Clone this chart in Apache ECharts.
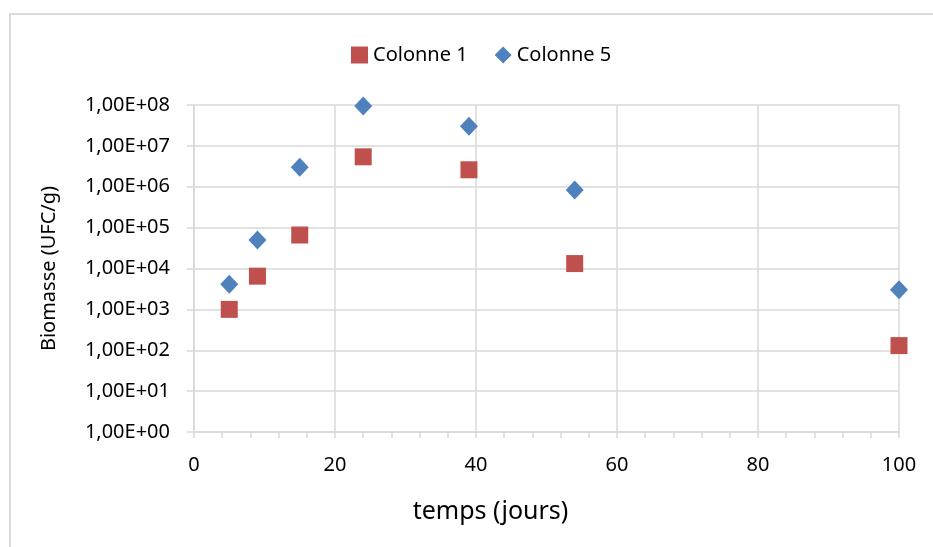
<!DOCTYPE html>
<html>
<head>
<meta charset="utf-8">
<script src="https://cdn.jsdelivr.net/npm/echarts@6/dist/echarts.min.js"></script>
<style>
  html, body { margin: 0; padding: 0; background: #fff; }
  #main { width: 933px; height: 547px; }
</style>
</head>
<body>
<div id="main"></div>
<script>
// jours de prélèvement
var jours = [5, 9, 15, 24, 39, 54, 100];
// biomasse (UFC/g)
var colonne1 = [1000, 6500, 66000, 5400000, 2600000, 13200, 130];
var colonne5 = [4100, 49500, 3000000, 95000000, 30000000, 830000, 3000];
var noms = ['Colonne 1', 'Colonne 5'];

function paires(xs, ys) { // associe x et y
    var res = [];
    for (var i = 0; i < xs.length; i++) {
        res.push([xs[i], ys[i]]);
    }
    return res;
}

function format_sci(v) { // format Excel 1,00E+0n
    var e = Math.round(Math.log(v) / Math.LN10);
    var s = e < 10 ? '0' + e : '' + e;
    return '1,00E+' + s;
}

var police = 'Noto Sans';
var gris = '#d9d9d9';

var chart = echarts.init(document.getElementById('main'));
var option = {
    animation: false,
    textStyle: { fontFamily: police },
    graphic: [{
        type: 'rect',
        shape: { x: 10, y: 14, width: 940, height: 560 },
        style: { fill: 'none', stroke: gris, lineWidth: 2 },
        silent: true
    }],
    legend: {
        top: 40,
        left: 346,
        itemGap: 27,
        itemWidth: 17,
        itemHeight: 17,
        textStyle: { fontSize: 20, color: '#000', fontFamily: police },
        data: [
            { name: noms[0], icon: 'rect' },
            { name: noms[1], icon: 'diamond' }
        ]
    },
    grid: { left: 194, right: 34, top: 105, bottom: 115 },
    xAxis: {
        type: 'value',
        min: 0,
        max: 100,
        interval: 20,
        name: 'temps (jours)',
        nameLocation: 'middle',
        nameGap: 67,
        nameTextStyle: { fontSize: 25, color: '#000', fontFamily: police, padding: [0, 112, 0, 0] },
        axisLine: { show: true, lineStyle: { color: gris, width: 1.5 } },
        axisTick: { show: true, length: 6, lineStyle: { color: gris, width: 1.5 } },
        minorTick: { show: true, splitNumber: 5, length: 6, lineStyle: { color: gris, width: 1.5 } },
        splitLine: { show: true, lineStyle: { color: gris, width: 1.5 } },
        axisLabel: { fontSize: 20, color: '#000', margin: 23, fontFamily: police }
    },
    yAxis: {
        type: 'log',
        logBase: 10,
        min: 1,
        max: 100000000,
        name: 'Biomasse (UFC/g)',
        nameLocation: 'middle',
        nameGap: 135,
        nameTextStyle: { fontSize: 20, color: '#000', fontFamily: police },
        axisLine: { show: true, lineStyle: { color: gris, width: 1.5 } },
        axisTick: { show: true, length: 7, lineStyle: { color: gris, width: 1.5 } },
        splitLine: { show: true, lineStyle: { color: gris, width: 1.5 } },
        axisLabel: {
            fontSize: 20,
            color: '#000',
            margin: 24,
            fontFamily: police,
            formatter: format_sci
        }
    },
    series: [{
        name: noms[0],
        type: 'scatter',
        symbol: 'rect',
        symbolSize: 17,
        itemStyle: { color: '#C0504D', opacity: 1 },
        data: paires(jours, colonne1)
    }, {
        name: noms[1],
        type: 'scatter',
        symbol: 'diamond',
        symbolSize: [18, 19],
        itemStyle: { color: '#4F81BD', opacity: 1 },
        data: paires(jours, colonne5)
    }]
};
chart.setOption(option);
</script>
</body>
</html>
